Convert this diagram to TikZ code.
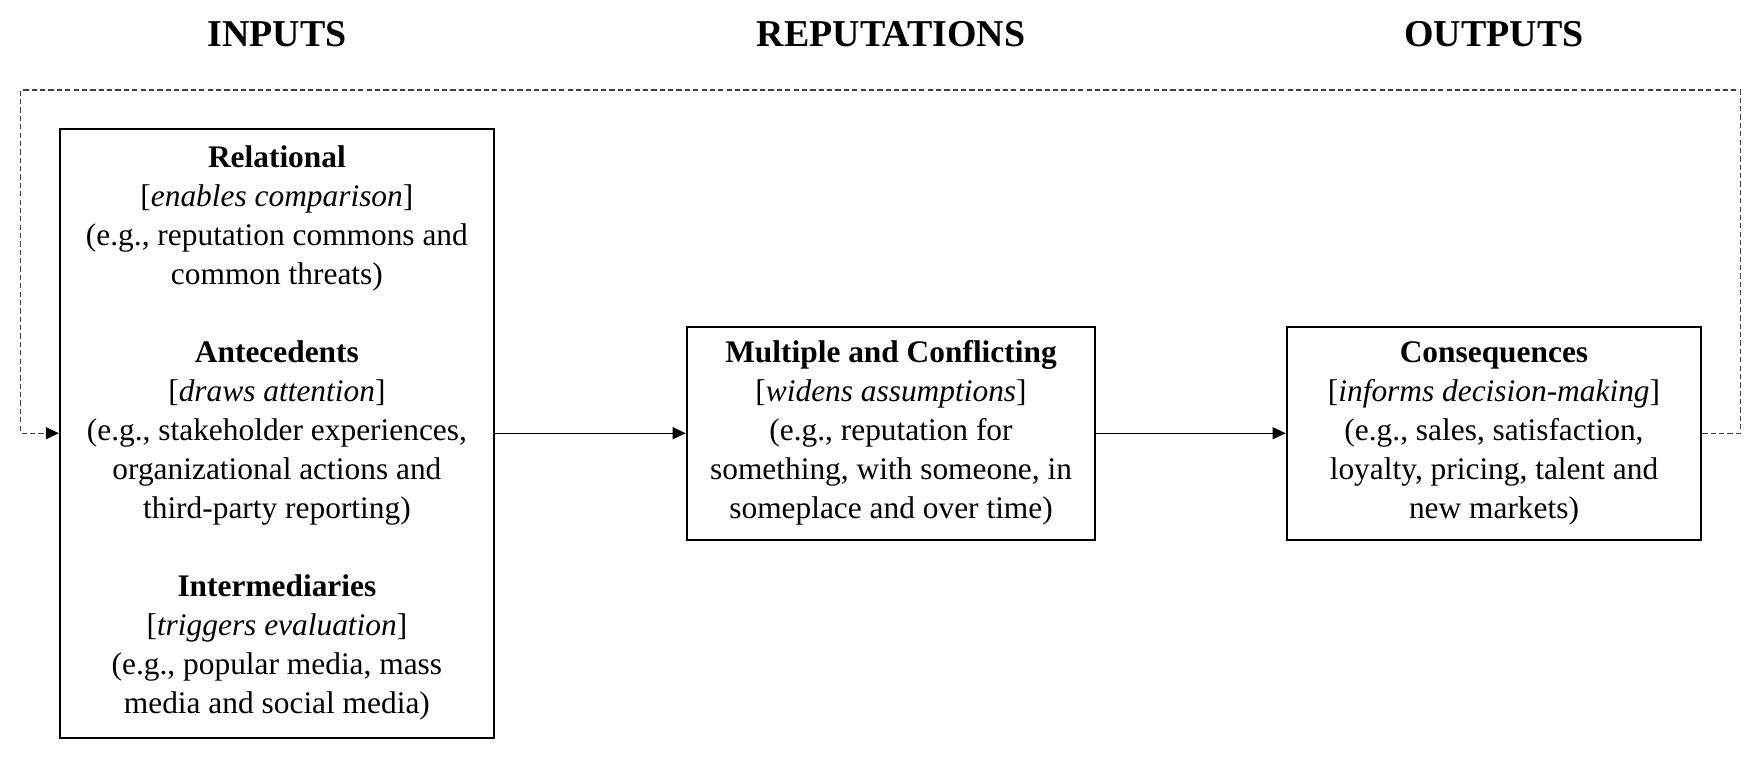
\documentclass[tikz,border=0pt]{standalone}
\usepackage{fontspec}
\setmainfont{Liberation Serif}
\usetikzlibrary{arrows.meta}

\tikzset{
    stagebox/.style={draw, line width=0.8pt, align=center, inner sep=2pt,
        font=\fontsize{12}{14.9}\selectfont},
    stagehead/.style={font=\fontsize{14.5}{17}\selectfont\bfseries},
    flow/.style={line width=0.5pt, -{Triangle[length=5pt,width=4.6pt,black]}},
    loopback/.style={flow, draw=black!75, dash pattern=on 2pt off 1.2pt}
}

\begin{document}
\begin{tikzpicture}
    		\useasboundingbox (0,0) rectangle (23.63,10.21);
    		\node[stagehead] (hin) at (3.72,9.75) {INPUTS};
    		\node[stagehead] (hrep) at (11.97,9.75) {REPUTATIONS};
    		\node[stagehead] (hout) at (20.07,9.75) {OUTPUTS};
    		\node[stagebox, minimum width=5.83cm, minimum height=8.18cm] (inputs) at (3.72,4.39) {%
    			\textbf{Relational}\\ {[}\textit{enables comparison}{]}\\ (e.g., reputation commons and\\ common threats)\\[14.9pt]
    			\textbf{Antecedents}\\ {[}\textit{draws attention}{]}\\ (e.g., stakeholder experiences,\\ organizational actions and\\ third-party reporting)\\[14.9pt]
    			\textbf{Intermediaries}\\ {[}\textit{triggers evaluation}{]}\\ (e.g., popular media, mass\\ media and social media)};
    		\node[stagebox, minimum width=5.49cm, minimum height=2.86cm] (reps) at (11.97,4.39) {%
    			\textbf{Multiple and Conflicting}\\ {[}\textit{widens assumptions}{]}\\ (e.g., reputation for\\ something, with someone, in\\ someplace and over time)};
    		\node[stagebox, minimum width=5.57cm, minimum height=2.86cm] (conseq) at (20.07,4.39) {%
    			\textbf{Consequences}\\ {[}\textit{informs decision-making}{]}\\ (e.g., sales, satisfaction,\\ loyalty, pricing, talent and\\ new markets)};
    		\coordinate (loopR) at (23.38,9.0);
    		\coordinate (loopL) at (0.28,9.0);
    		\draw[flow] (inputs) -- (reps);
    		\draw[flow] (reps) -- (conseq);
    		\draw[loopback] (conseq.east) -| (loopR) -- (loopL) |- (inputs.west);
    	\end{tikzpicture}
\end{document}
